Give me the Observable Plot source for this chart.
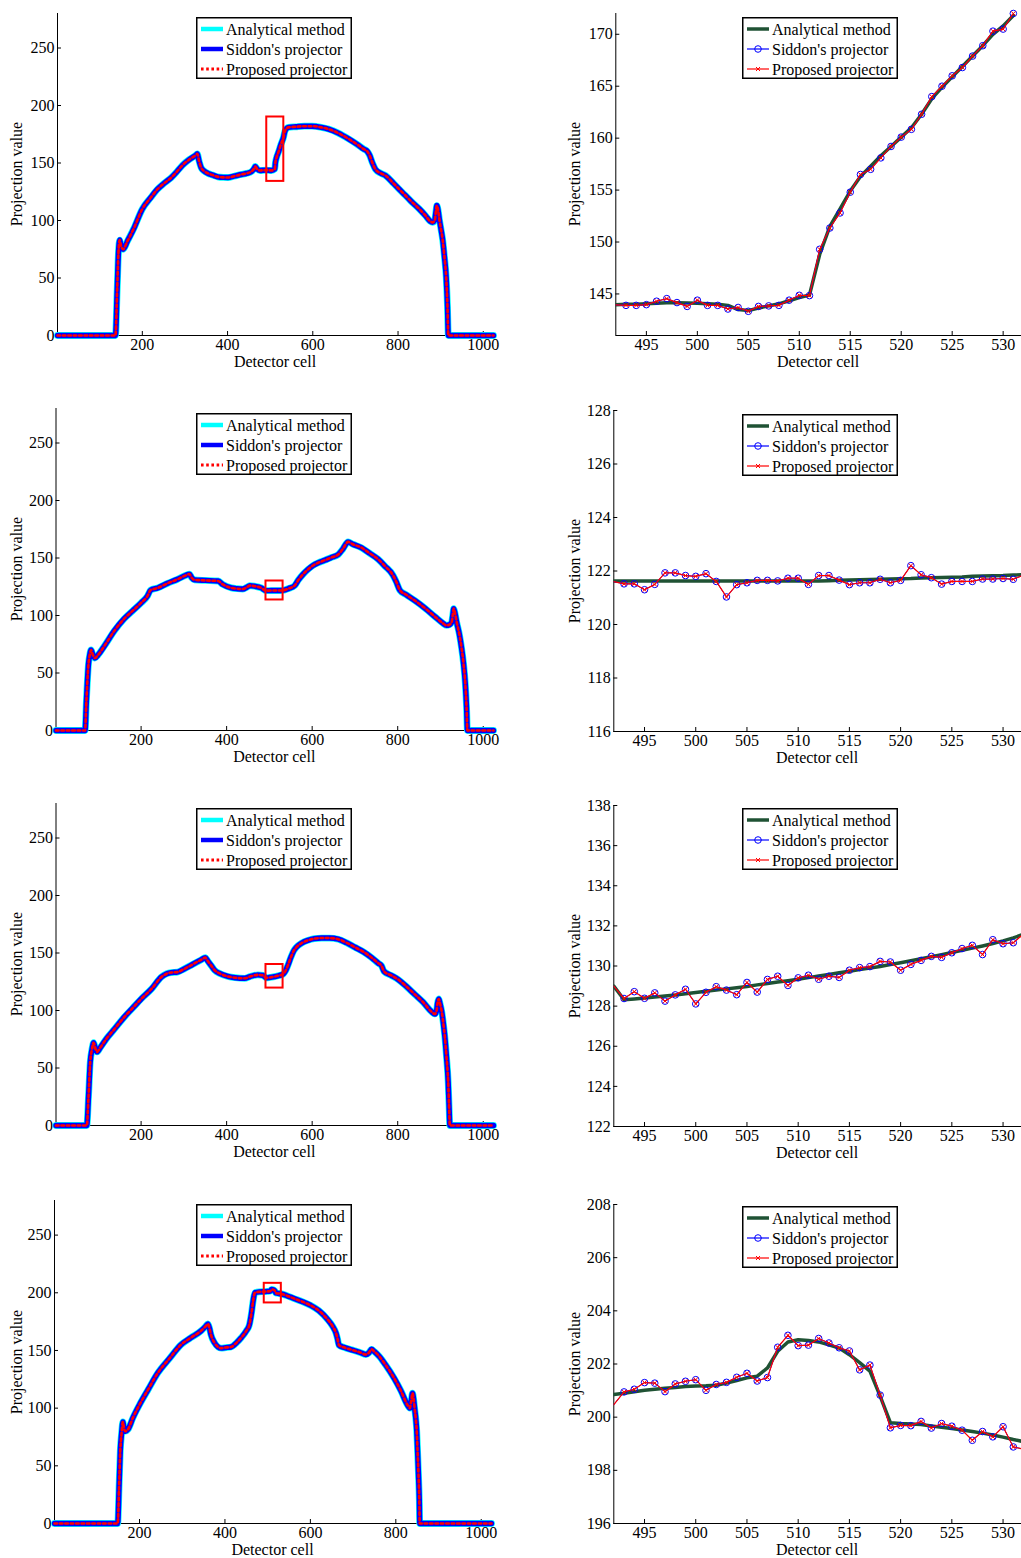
<!DOCTYPE html>
<html><head><meta charset="utf-8">
<script src="https://cdn.jsdelivr.net/npm/d3@7"></script>
<script src="https://cdn.jsdelivr.net/npm/@observablehq/plot@0.6"></script>
<style>
body{margin:0;background:#fff;}
#root{position:relative;width:1021px;height:1558px;font-family:"Liberation Serif","Times New Roman",serif;color:#000;overflow:hidden;}
.panel{position:absolute;}
.panel svg text{font-family:"Liberation Serif","Times New Roman",serif;font-size:16px;}
.lbl{position:absolute;font-size:16px;white-space:nowrap;line-height:16px;}
.ylbl{transform:translate(-50%,-50%) rotate(-90deg);}
.xlbl{transform:translate(-50%,-50%);}
.legend{position:absolute;}
</style></head><body><div id="root"></div>
<script>
// ---------- Full-profile data (left column) ----------
const fullXTicks = [200, 400, 600, 800, 1000];
const fullYTicks = [0, 50, 100, 150, 200, 250];
const fullXDomain = [1, 1024];
const fullYDomain = [0, 280];

const row1Cells = [1,137,141,144,147,150,155,165,180,200,220,235,250,267,280,294,310,326,329,333,338,345,354,365,377,390,401,415,432,445,456,462,465,469,476,490,503,511,512,515,520,525,531,535,543,560,580,598,620,637,660,684,705,720,727,733,740,747,760,771,790,810,830,850,865,875,881,886,889,891,894,897,901,905,909,913,916,918,1024];
const row1Profile = [0,0,40,72,83,78,75,82,93,110,120,127,132,137,142,148,153,157,158,152,146,143,141,139.5,138,137.5,137.4,138.5,140,141,142.5,145,147,145,143.5,143.8,143.5,144.8,149.3,154.8,160.1,166,172,178,181,181.5,182,182,181,179.5,176,171,166,162,160.5,157,150,144.5,141,139,132,124.5,117,110,104,99.5,98.4,100,108,113,109,101,92,82.5,68,50.6,25,0,0];

const row2Cells = [1,69,72,77,80,83,87,92,100,115,138,160,180,200,215,222,239,262,285,305,313,318,325,350,380,391,411,425,438,447,454,465,481,492,504,520,532,545,559,568,579,590,602,615,629,645,661,672,684,695,715,735,754,770,789,797,805,820,840,865,887,905,914,921,926,929,931,934,938,944,949,954,958,961,963,1024];
const row2Profile = [0,0,25,58,66,70,66,63,66,74,87,97,104,111,117,122,124,128,131.5,135,136,133,131,130.5,130,127,124,123.3,123,124.5,126,125.5,124,121.6,121.7,121.7,121.9,123.5,126,131,136,140,143.5,146,148,150.5,153,158,164,162,159,154,149,143,135,129,122,118,113,106,99,93.5,91.4,92,94,101,106,102,94,84,72.6,58,41,20,0,0];

const row3Cells = [1,73,77,81,85,89,93,97,105,120,138,160,180,200,225,247,260,270,285,300,320,340,350,356,364,372,385,403,420,442,455,473,485,493,500,512,520,528,532,537,543,550,557,563,575,590,605,622,640,661,680,700,720,739,755,762,768,785,801,820,840,860,879,887,891,893,896,899,903,907,910,914,918,920,922,1024];
const row3Profile = [0,0,25,55,66,72,67,64,68,76,84,94,102,110,119,129,132,133,133.4,136,140,144,146,143,139,135,132,129.6,128.5,128,129.5,131,130.5,128.4,128.7,129.5,130.2,131,131.6,134,139,146,152,155,158.5,161,162.5,163,163,162,159,155,151,146,141,139,134,130.5,127,121,114,107,99,97,100,106,110,106,99,88,78,60,38,18,0,0];

const row4Cells = [1,149,152,155,158,161,164,167,173,185,200,220,243,270,297,320,344,355,360,364,367,375,391,402,414,428,438,450,457,462,466,470,480,492,500,506,509,512,516,518,519,532,545,562,580,601,620,640,652,660,663,667,680,702,715,730,737,743,750,761,775,796,812,827,833,836,839,842,844,847,849,851,853,855,856,1024];
const row4Profile = [0,0,30,63,78,88,82,80,81.6,92,103,116,130.6,143,155,161,167,171,173,169,164,157,152,152.5,153,157,161,167,172,182,193,200,200.8,201,201.2,201.5,202.9,202.8,202,200.8,199.8,199.1,197.5,195,192.5,189,184.5,177,171,165,161,154.6,152.5,150,148.5,146.5,148,151,149,145,138,126,115,103,100,106,113,107,100,90,80,62,43,20,0,0];

// zoom rectangles drawn on the full profiles (data coordinates)
const zoomX1 = [492, 492, 492, 492];
const zoomX2 = [532, 532, 532, 532];
const zoomY1 = [134, 113.5, 119.5, 191.2];
const zoomY2 = [190, 130, 140, 208.2];

// ---------- Detail data (right column) ----------
const detailCells = [492,493,494,495,496,497,498,499,500,501,502,503,504,505,506,507,508,509,510,511,512,513,514,515,516,517,518,519,520,521,522,523,524,525,526,527,528,529,530,531,532];
const detailXTicks = [495, 500, 505, 510, 515, 520, 525, 530];
const detailXDomain = [492, 531.8];

const r1YTicks = [145, 150, 155, 160, 165, 170];
const r1YDomain = [141, 172];
const r1Analytical = [143.95,144.0,144.0,144.05,144.1,144.15,144.15,144.12,144.1,144.05,144.0,143.9,143.5,143.4,143.65,143.85,144.05,144.35,144.65,144.9,148.8,151.5,153.2,154.9,156.3,157.3,158.3,159.2,160.1,161.0,162.3,163.8,164.9,165.9,166.9,167.9,168.9,170.0,170.8,171.8,null];
const r1Siddon = [143.95,143.9,143.9,143.97,144.3,144.55,144.17,143.8,144.4,143.9,143.9,143.55,143.7,143.33,143.8,143.85,143.9,144.4,144.87,144.84,149.3,151.35,152.8,154.8,156.5,157.0,158.1,159.2,160.1,160.85,162.3,164.0,165.0,166.0,166.8,167.9,168.9,170.3,170.5,172.0,null];
const r1Proposed = [143.95,143.9,143.9,143.97,144.3,144.55,144.17,143.8,144.4,143.9,143.9,143.55,143.7,143.33,143.8,143.85,143.9,144.4,144.87,144.84,149.3,151.35,152.8,154.8,156.5,157.0,158.1,159.2,160.1,160.85,162.3,164.0,165.0,166.0,166.8,167.9,168.9,170.3,170.5,172.0,null];

const r2YTicks = [116, 118, 120, 122, 124, 126, 128];
const r2YDomain = [116, 128];
const r2Analytical = [121.63,121.63,121.63,121.63,121.63,121.63,121.63,121.63,121.63,121.63,121.63,121.63,121.63,121.63,121.63,121.63,121.63,121.63,121.63,121.63,121.63,121.64,121.65,121.66,121.67,121.68,121.69,121.7,121.71,121.72,121.74,121.75,121.76,121.77,121.78,121.8,121.81,121.82,121.83,121.85,121.86];
const r2Siddon = [121.6,121.52,121.52,121.3,121.5,121.93,121.93,121.83,121.8,121.9,121.61,121.03,121.49,121.56,121.65,121.65,121.63,121.73,121.73,121.5,121.83,121.83,121.66,121.49,121.56,121.56,121.69,121.56,121.65,122.2,121.86,121.75,121.51,121.61,121.61,121.61,121.7,121.7,121.72,121.69,121.85];
const r2Proposed = [121.6,121.52,121.52,121.3,121.5,121.93,121.93,121.83,121.8,121.9,121.61,121.03,121.49,121.56,121.65,121.65,121.63,121.73,121.73,121.5,121.83,121.83,121.66,121.49,121.56,121.56,121.69,121.56,121.65,122.2,121.86,121.75,121.51,121.61,121.61,121.61,121.7,121.7,121.72,121.69,121.85];

const r3YTicks = [122, 124, 126, 128, 130, 132, 134, 136, 138];
const r3YDomain = [122, 138];
const r3Analytical = [129.0,128.32,128.36,128.4,128.45,128.5,128.55,128.62,128.68,128.74,128.8,128.86,128.92,128.98,129.06,129.13,129.2,129.27,129.34,129.42,129.5,129.58,129.66,129.74,129.82,129.9,129.98,130.07,130.16,130.26,130.36,130.46,130.56,130.67,130.78,130.89,131.0,131.12,131.25,131.4,131.58];
const r3Siddon = [129.0,128.38,128.72,128.39,128.66,128.25,128.56,128.84,128.11,128.69,128.97,128.8,128.57,129.18,128.7,129.33,129.49,129.03,129.41,129.54,129.34,129.49,129.43,129.79,129.92,129.97,130.23,130.2,129.79,130.08,130.28,130.48,130.43,130.66,130.87,131.03,130.57,131.31,131.11,131.16,131.6];
const r3Proposed = [129.0,128.38,128.72,128.39,128.66,128.25,128.56,128.84,128.11,128.69,128.97,128.8,128.57,129.18,128.7,129.33,129.49,129.03,129.41,129.54,129.34,129.49,129.43,129.79,129.92,129.97,130.23,130.2,129.79,130.08,130.28,130.48,130.43,130.66,130.87,131.03,130.57,131.31,131.11,131.16,131.6];

const r4YTicks = [196, 198, 200, 202, 204, 206, 208];
const r4YDomain = [196, 208];
const r4Analytical = [200.85,200.9,200.96,201.01,201.05,201.09,201.12,201.15,201.17,201.18,201.2,201.28,201.38,201.48,201.54,201.85,202.48,202.83,202.91,202.88,202.83,202.72,202.6,202.35,202.05,201.73,200.79,199.79,199.76,199.74,199.72,199.67,199.62,199.57,199.52,199.46,199.4,199.33,199.25,199.16,199.08];
const r4Siddon = [200.47,200.95,201.05,201.3,201.28,200.96,201.25,201.35,201.41,201.01,201.23,201.31,201.5,201.65,201.36,201.49,202.63,203.08,202.69,202.71,202.96,202.79,202.61,202.49,201.78,201.96,200.83,199.6,199.69,199.68,199.84,199.59,199.76,199.66,199.51,199.13,199.46,199.26,199.64,198.88,198.8];
const r4Proposed = [200.47,200.95,201.05,201.3,201.28,200.96,201.25,201.35,201.41,201.01,201.23,201.31,201.5,201.65,201.36,201.49,202.63,203.08,202.69,202.71,202.96,202.79,202.61,202.49,201.78,201.96,200.83,199.6,199.69,199.68,199.84,199.59,199.76,199.66,199.51,199.13,199.46,199.26,199.64,198.88,198.8];

const seriesNames = ["Analytical method", "Siddon's projector", "Proposed projector"];
const fullColors = ["#00ffff", "#0000ff", "#ff0000"];
const detailColors = ["#1f5234", "#0000ff", "#ff0000"];

// ---------- layout ----------
const leftRows = [
  {cells: row1Cells, values: row1Profile, T: 13, B: 335, ML: 57, FR: 493, legTop: 17},
  {cells: row2Cells, values: row2Profile, T: 408, B: 730, ML: 55.5, FR: 493, legTop: 413},
  {cells: row3Cells, values: row3Profile, T: 803, B: 1125, ML: 55.5, FR: 493, legTop: 808},
  {cells: row4Cells, values: row4Profile, T: 1200, B: 1523, ML: 54, FR: 491, legTop: 1204}
];
const rightRows = [
  {a: r1Analytical, s: r1Siddon, p: r1Proposed, yt: r1YTicks, yd: r1YDomain, T: 13, B: 335, ML: 615.3, legTop: 17},
  {a: r2Analytical, s: r2Siddon, p: r2Proposed, yt: r2YTicks, yd: r2YDomain, T: 410, B: 731, ML: 613.3, legTop: 414},
  {a: r3Analytical, s: r3Siddon, p: r3Proposed, yt: r3YTicks, yd: r3YDomain, T: 805, B: 1126, ML: 613.3, legTop: 808},
  {a: r4Analytical, s: r4Siddon, p: r4Proposed, yt: r4YTicks, yd: r4YDomain, T: 1204, B: 1523, ML: 613.3, legTop: 1206}
];

const root = document.getElementById("root");
const FONT = "Liberation Serif, Times New Roman, serif";
const MT = 12, MB = 42;

function addLabel(text, x, y, rotate) {
  const d = document.createElement("div");
  d.className = "lbl " + (rotate ? "ylbl" : "xlbl");
  d.textContent = text;
  d.style.left = x + "px";
  d.style.top = y + "px";
  root.appendChild(d);
}

function axisMarks(xTicks, yTicks, xd, yd) {
  const common = {tickSize: -4, tickPadding: 7, label: null, fontSize: 16, fontFamily: FONT, stroke: "#000", fill: "#000", tickFormat: d => String(d)};
  return [
    Plot.ruleX([xd[0]], {stroke: "#000", strokeWidth: 1}),
    Plot.ruleY([yd[0]], {stroke: "#000", strokeWidth: 1}),
    Plot.axisX(xTicks, common),
    Plot.axisY(yTicks, common)
  ];
}

function addLegend(left, top, kind) {
  const w = 156, h = 62;
  const ns = "http://www.w3.org/2000/svg";
  const svg = document.createElementNS(ns, "svg");
  svg.setAttribute("width", w); svg.setAttribute("height", h);
  svg.setAttribute("class", "legend");
  svg.style.left = left + "px"; svg.style.top = top + "px";
  let html = `<rect x="0.75" y="0.75" width="${w - 1.5}" height="${h - 1.5}" fill="#fff" stroke="#000" stroke-width="1.5"/>`;
  seriesNames.forEach((name, i) => {
    const cy = 12 + i * 20;
    if (kind === "full") {
      const c = fullColors[i];
      if (i === 2) html += `<line x1="5" x2="27" y1="${cy}" y2="${cy}" stroke="${c}" stroke-width="3" stroke-dasharray="2.6,2.6"/>`;
      else html += `<line x1="5" x2="27" y1="${cy}" y2="${cy}" stroke="${c}" stroke-width="4.5"/>`;
    } else {
      const c = detailColors[i];
      if (i === 0) html += `<line x1="5" x2="27" y1="${cy}" y2="${cy}" stroke="${c}" stroke-width="3.5"/>`;
      else {
        html += `<line x1="5" x2="27" y1="${cy}" y2="${cy}" stroke="${c}" stroke-width="1.2"/>`;
        if (i === 1) html += `<circle cx="16" cy="${cy}" r="3.3" fill="none" stroke="${c}" stroke-width="1"/>`;
        else html += `<path d="M14,${cy - 2}L18,${cy + 2}M14,${cy + 2}L18,${cy - 2}" stroke="${c}" stroke-width="1"/>`;
      }
    }
    html += `<text x="30" y="${cy}" dy="0.35em" font-family="${FONT}" font-size="16" fill="#000">${name.replace("'", "&#39;")}</text>`;
  });
  svg.innerHTML = html;
  root.appendChild(svg);
}

leftRows.forEach((r, k) => {
  const data = r.cells.map((c, i) => ({x: c, y: r.values[i]}));
  const box = [{x1: zoomX1[k], x2: zoomX2[k], y1: zoomY1[k], y2: zoomY2[k]}];
  const width = 500;
  const height = (r.B - r.T) + MT + MB;
  const plot = Plot.plot({
    width, height,
    marginLeft: r.ML, marginRight: width - r.FR, marginTop: MT, marginBottom: MB,
    x: {domain: fullXDomain, label: null},
    y: {domain: fullYDomain, label: null},
    style: {fontFamily: FONT, fontSize: "16px", color: "#000", background: "transparent", overflow: "visible"},
    marks: [
      ...axisMarks(fullXTicks, fullYTicks, fullXDomain, fullYDomain),
      Plot.line(data, {x: "x", y: "y", curve: "monotone-x", stroke: fullColors[0], strokeWidth: 6.8, strokeLinejoin: "round"}),
      Plot.line(data, {x: "x", y: "y", curve: "monotone-x", stroke: fullColors[1], strokeWidth: 5.4, strokeLinejoin: "round"}),
      Plot.line(data, {x: "x", y: "y", curve: "monotone-x", stroke: fullColors[2], strokeWidth: 2.6, strokeDasharray: "2.6,2.8", strokeLinejoin: "round"}),
      Plot.rect(box, {x1: "x1", x2: "x2", y1: "y1", y2: "y2", stroke: "#ff0000", strokeWidth: 2, fill: "none"})
    ]
  });
  const div = document.createElement("div");
  div.className = "panel";
  div.style.left = "0px";
  div.style.top = (r.T - MT) + "px";
  div.appendChild(plot);
  root.appendChild(div);
  addLabel("Detector cell", (r.ML + r.FR) / 2, r.B + 27, false);
  addLabel("Projection value", 17, (r.T + r.B) / 2, true);
  addLegend(196, r.legTop, "full");
});

rightRows.forEach((r, k) => {
  const mk = arr => detailCells.map((c, i) => ({x: c, y: arr[i]})).filter(d => d.y != null);
  const inside = d => d.x > detailXDomain[0] + 0.5 && d.x <= detailXDomain[1];
  const A = mk(r.a), S = mk(r.s), P = mk(r.p);
  const left = 560;
  const width = 1021 - left;
  const height = (r.B - r.T) + MT + MB;
  const plot = Plot.plot({
    width, height,
    marginLeft: r.ML - left, marginRight: 0, marginTop: MT, marginBottom: MB,
    x: {domain: detailXDomain, label: null},
    y: {domain: r.yd, label: null},
    style: {fontFamily: FONT, fontSize: "16px", color: "#000", background: "transparent", overflow: "visible"},
    marks: [
      ...axisMarks(detailXTicks, r.yt, detailXDomain, r.yd),
      Plot.line(A, {x: "x", y: "y", stroke: detailColors[0], strokeWidth: 3.5, strokeLinejoin: "round", clip: true}),
      Plot.line(S, {x: "x", y: "y", stroke: detailColors[1], strokeWidth: 1, clip: true}),
      Plot.dot(S.filter(inside), {x: "x", y: "y", r: 3.3, stroke: detailColors[1], fill: "none", strokeWidth: 1}),
      Plot.line(P, {x: "x", y: "y", stroke: detailColors[2], strokeWidth: 1.2, clip: true}),
      Plot.dot(P.filter(inside), {x: "x", y: "y", symbol: "times", r: 2.1, stroke: detailColors[2], strokeWidth: 1})
    ]
  });
  const div = document.createElement("div");
  div.className = "panel";
  div.style.left = left + "px";
  div.style.top = (r.T - MT) + "px";
  div.appendChild(plot);
  root.appendChild(div);
  addLabel("Detector cell", (r.ML + 1021) / 2, r.B + 27, false);
  addLabel("Projection value", 575, (r.T + r.B) / 2, true);
  addLegend(742, r.legTop, "detail");
});
</script>
</body></html>
